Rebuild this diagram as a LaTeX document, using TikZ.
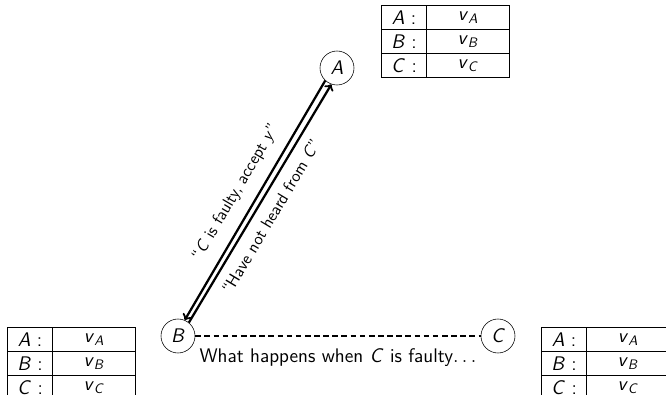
\documentclass[tikz,border=0pt]{standalone}
\usepackage{fontspec}
\renewcommand{\familydefault}{\sfdefault}
\usetikzlibrary{matrix}

\tikzset{
    proc/.style={draw, circle, minimum size=0.85cm, inner sep=0pt},
    msg/.style={line width=1.6pt, -to},
    msglabel/.style={sloped, font=\fontsize{12}{14}\selectfont},
    valtab/.style={matrix of nodes, inner sep=0pt, anchor=north west,
        column sep=-\pgflinewidth, row sep=-\pgflinewidth,
        nodes={draw, anchor=center, inner sep=0pt, minimum height=0.6cm},
        column 1/.style={nodes={minimum width=1.125cm}},
        column 2/.style={nodes={minimum width=2.075cm}}}
}

\begin{document}
\begin{tikzpicture}[font=\fontsize{14}{17}\selectfont]
    \clip (0,0) rectangle (16.65,9.875);
    \useasboundingbox (0,0) rectangle (16.65,9.875);

    % Processes
    \node [proc] (A) at (8.425,8.175) {\textit{A}};
    \node [proc] (B) at (4.45,1.475) {\textit{B}};
    \node [proc] (C) at (12.45,1.475) {\textit{C}};

    % Local values of each process
    \matrix (valsA) [valtab] at (9.525,9.75) {
        \textit{A} : & \textit{v}\textsubscript{\textit{A}} \\
        \textit{B} : & \textit{v}\textsubscript{\textit{B}} \\
        \textit{C} : & \textit{v}\textsubscript{\textit{C}} \\
    };
    \matrix (valsB) [valtab] at (0.175,1.7) {
        \textit{A} : & \textit{v}\textsubscript{\textit{A}} \\
        \textit{B} : & \textit{v}\textsubscript{\textit{B}} \\
        \textit{C} : & \textit{v}\textsubscript{\textit{C}} \\
    };
    \matrix (valsC) [valtab] at (13.525,1.7) {
        \textit{A} : & \textit{v}\textsubscript{\textit{A}} \\
        \textit{B} : & \textit{v}\textsubscript{\textit{B}} \\
        \textit{C} : & \textit{v}\textsubscript{\textit{C}} \\
    };

    % Messages between A and B
    \draw[msg] (A.227) -- (B.67)
        node [msglabel, pos=0.51, above=5pt] {``\textit{C} is faulty, accept \textit{y}''};
    \draw[msg] (B.51) -- (A.251)
        node [msglabel, pos=0.48, below=3pt] {``Have not heard from \textit{C}''};

    % Broken link to C
    \draw[line width=1.4pt, dash pattern=on 4pt off 2.5pt] (B) -- (C)
        node [midway, below=5pt] {What happens when \textit{C} is faulty$\ldots$};
\end{tikzpicture}
\end{document}
